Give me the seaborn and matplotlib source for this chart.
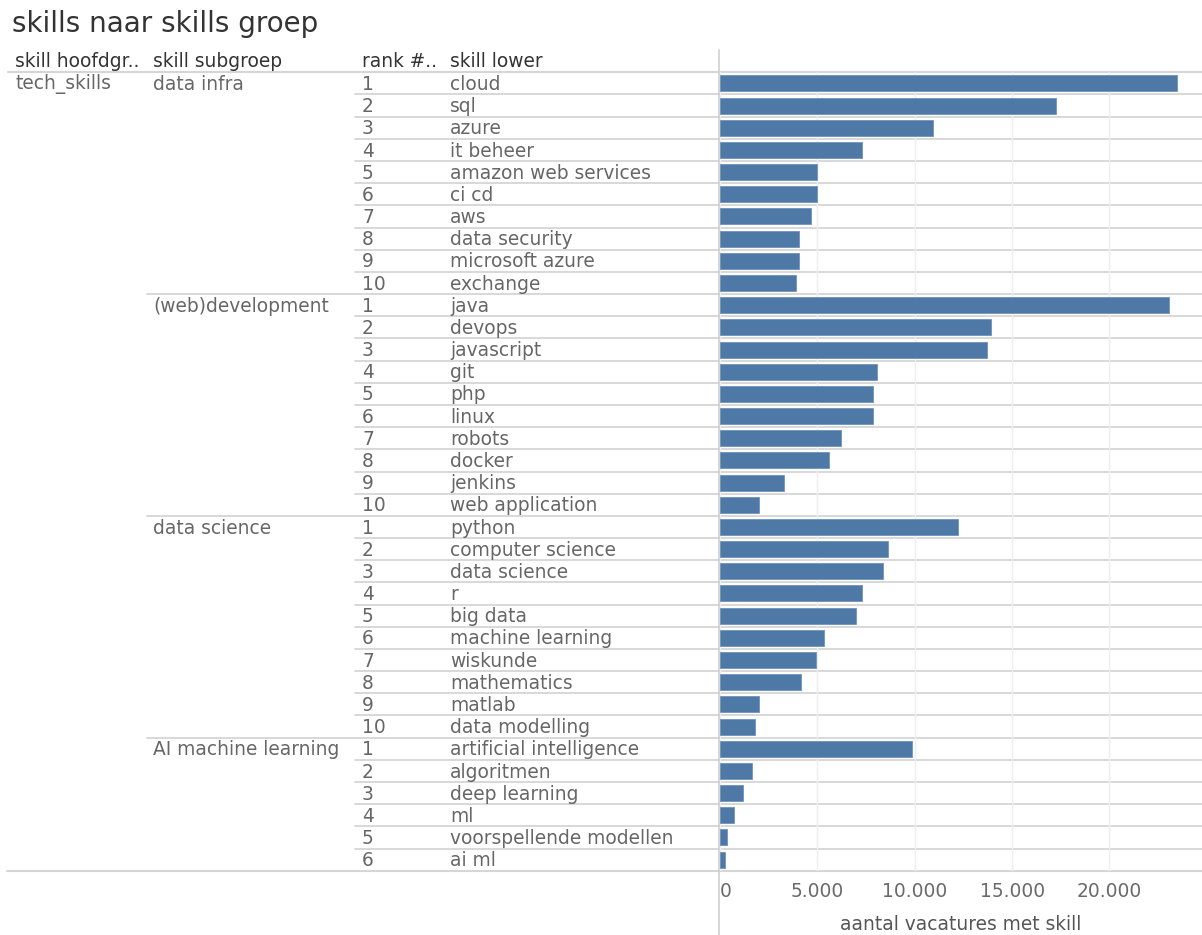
import matplotlib
matplotlib.use("Agg")
import matplotlib.pyplot as plt
import seaborn as sns
import pandas as pd
from matplotlib.transforms import blended_transform_factory
from matplotlib.lines import Line2D
from matplotlib.ticker import FuncFormatter

# ---------------- data ----------------
title = "skills naar skills groep"
headers = ["skill hoofdgr..", "skill subgroep", "rank #..", "skill lower"]
main_group = "tech_skills"
subgroups = ["data infra", "(web)development", "data science", "AI machine learning"]

skills_data_infra = ["cloud", "sql", "azure", "it beheer", "amazon web services", "ci cd",
                     "aws", "data security", "microsoft azure", "exchange"]
values_data_infra = [23490, 17250, 10920, 7270, 5000, 5000, 4650, 4070, 4040, 3920]

skills_webdev = ["java", "devops", "javascript", "git", "php", "linux", "robots", "docker",
                 "jenkins", "web application"]
values_webdev = [23050, 13940, 13700, 8080, 7850, 7850, 6190, 5610, 3300, 1990]

skills_data_science = ["python", "computer science", "data science", "r", "big data",
                       "machine learning", "wiskunde", "mathematics", "matlab", "data modelling"]
values_data_science = [12230, 8640, 8350, 7270, 6980, 5340, 4930, 4140, 1990, 1810]

skills_ai = ["artificial intelligence", "algoritmen", "deep learning", "ml",
             "voorspellende modellen", "ai ml"]
values_ai = [9840, 1640, 1180, 720, 380, 270]

x_ticks = [0, 5000, 10000, 15000, 20000]
x_label = "aantal vacatures met skill"

groups = [skills_data_infra, skills_webdev, skills_data_science, skills_ai]
group_values = [values_data_infra, values_webdev, values_data_science, values_ai]

rows = []
for sg, sk, vals in zip(subgroups, groups, group_values):
    for r, (s, v) in enumerate(zip(sk, vals), start=1):
        rows.append({"subgroup": sg, "rank": r, "skill": s, "value": v})
df = pd.DataFrame(rows)

# ---------------- figure ----------------
W, H = 1202, 935
sns.set_style("white")
plt.rcParams["font.family"] = ["DejaVu Sans"]
fig = plt.figure(figsize=(W / 100, H / 100), dpi=100)

top_px, bot_px = 72.3, 870.7
left_px, right_px = 720, 1202
ax = fig.add_axes([left_px / W, 1 - bot_px / H, (right_px - left_px) / W, (bot_px - top_px) / H])

sns.barplot(data=df, y="skill", x="value", order=list(df["skill"]), orient="h",
            color="#4e79a7", saturation=1, width=0.72, edgecolor="#6f93bd",
            linewidth=0.6, ax=ax)

n = len(df)
ax.autoscale(False)
ax.set_ylim(n - 0.5, -0.5)
ax.set_xlim(0, 24750)
ax.set_yticks([])
ax.set_ylabel("")
for s in ax.spines.values():
    s.set_visible(False)

fs = 13.4
ax.set_xticks(x_ticks)
ax.xaxis.set_major_formatter(FuncFormatter(lambda v, p: f"{int(v):,}".replace(",", ".")))
ax.tick_params(axis="x", length=0, pad=8, labelsize=fs, labelcolor="#6a6a6a")
ax.xaxis.grid(True, color="#eeeeee", lw=1)
ax.set_axisbelow(True)
for lbl in ax.get_xticklabels():
    if lbl.get_text() == "0":
        lbl.set_horizontalalignment("left")
        lbl.set_x(0)
ax.set_xlabel(x_label, fontsize=fs, color="#555555", labelpad=10)

trans = blended_transform_factory(fig.transFigure, ax.transData)
line_col = "#d6d6d6"

# row separators
group_starts = set()
idx = 0
for sk in groups:
    group_starts.add(idx)
    idx += len(sk)
for i in range(1, n):
    x0 = 147 / W if i in group_starts else 355 / W
    ax.add_line(Line2D([x0, 1.0], [i - 0.5, i - 0.5], transform=trans, color=line_col,
                       lw=1.3, clip_on=False, zorder=0.5))
ax.add_line(Line2D([8 / W, 1.0], [-0.5, -0.5], transform=trans, color=line_col,
                   lw=1.5, clip_on=False, zorder=0.5))
ax.add_line(Line2D([7 / W, 1.0], [n - 0.5, n - 0.5], transform=trans, color=line_col,
                   lw=1.5, clip_on=False, zorder=0.5))

# vertical axis line
fig.add_artist(Line2D([719 / W, 719 / W], [0, 1 - 50 / H], transform=fig.transFigure,
                      color="#d0d0d0", lw=1.2))

# table text
txt_col = "#666666"
hdr_col = "#333333"
hdr_y = -1.0
for xp, h in zip([15, 153, 362, 450], headers):
    ax.text(xp / W, hdr_y, h, transform=trans, fontsize=fs, color=hdr_col,
            va="center", ha="left", clip_on=False)

ax.text(15 / W, 0.05, main_group, transform=trans, fontsize=fs, color=txt_col,
        va="center", ha="left", clip_on=False)
for i, row in df.iterrows():
    if row["rank"] == 1:
        ax.text(153 / W, i + 0.05, row["subgroup"], transform=trans, fontsize=fs, color=txt_col,
                va="center", ha="left", clip_on=False)
    ax.text(362 / W, i + 0.05, str(row["rank"]), transform=trans, fontsize=fs, color=txt_col,
            va="center", ha="left", clip_on=False)
    ax.text(450 / W, i + 0.05, row["skill"], transform=trans, fontsize=fs, color=txt_col,
            va="center", ha="left", clip_on=False)

fig.text(12 / W, 1 - 24 / H, title, fontsize=20, color="#333333", va="center", ha="left")

fig.savefig("out.png", dpi=100)
